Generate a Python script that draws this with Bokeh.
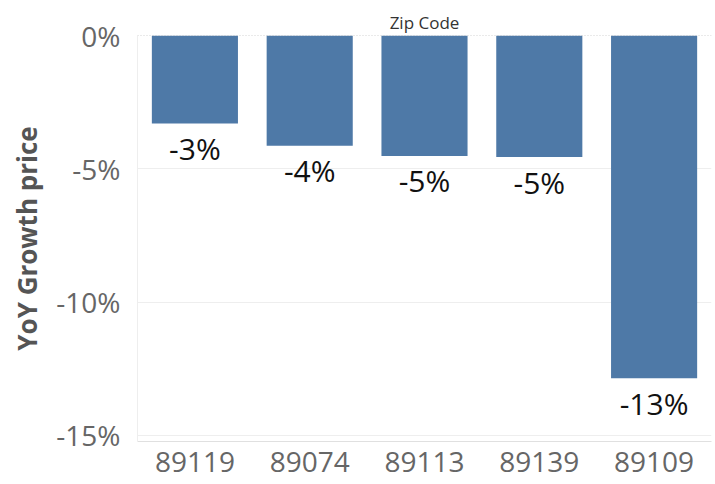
from bokeh.plotting import figure
from bokeh.models import ColumnDataSource, Range1d, FixedTicker, PrintfTickFormatter, Span
from bokeh.core.properties import value
from bokeh.embed import file_html
from bokeh.resources import INLINE

zip_codes = ["89119", "89074", "89113", "89139", "89109"]
yoy_growth = [-3.30, -4.14, -4.52, -4.56, -12.86]
value_labels = ["%d%%" % round(v) for v in yoy_growth]
y_ticks = [0, -5, -10, -15]

FONT = "Open Sans"

source = ColumnDataSource(dict(zip=zip_codes, growth=yoy_growth, label=value_labels))

p = figure(
    x_range=zip_codes,
    y_range=Range1d(-15.23, 0),
    width=715, height=484,
    output_backend="svg", toolbar_location=None,
    min_border_left=137, min_border_right=4,
    min_border_top=35, min_border_bottom=43,
    title="Zip Code",
)
p.title.align = "center"
p.title.text_font = FONT
p.title.text_font_size = "17px"
p.title.text_font_style = "normal"
p.title.text_color = "#333333"
p.title.standoff = 4

p.vbar(x="zip", top=0, bottom="growth", width=0.75, source=source,
       fill_color="#4e79a7", line_color=None)

p.text(x="zip", y="growth", text="label", source=source,
       text_align="center", text_baseline="middle", y_offset=25,
       text_font=value(FONT), text_font_size="30px", text_color="#111111")

zero = Span(location=0, dimension="width", line_color="#aaaaaa",
            line_dash="1 2", line_width=1)
p.add_layout(zero)

p.outline_line_color = None
p.xgrid.grid_line_color = None
p.ygrid.grid_line_color = "#eeeeee"
p.ygrid.ticker = FixedTicker(ticks=[-5, -10, -15])

p.yaxis.ticker = FixedTicker(ticks=y_ticks)
p.yaxis.formatter = PrintfTickFormatter(format="%d%%")
p.yaxis.axis_label = "YoY Growth price"
p.yaxis.axis_label_text_font = FONT
p.yaxis.axis_label_text_font_size = "26px"
p.yaxis.axis_label_text_font_style = "bold"
p.yaxis.axis_label_text_color = "#555555"
p.yaxis.axis_label_standoff = 8
p.yaxis.major_label_text_font = FONT
p.yaxis.major_label_text_font_size = "28px"
p.yaxis.major_label_text_color = "#666666"
p.yaxis.major_label_standoff = 11
p.yaxis.major_tick_line_color = None
p.yaxis.minor_tick_line_color = None
p.yaxis.axis_line_color = "#eeeeee"

p.xaxis.major_label_text_font = FONT
p.xaxis.major_label_text_font_size = "28px"
p.xaxis.major_label_text_color = "#666666"
p.xaxis.major_label_standoff = 4
p.xaxis.major_tick_line_color = None
p.xaxis.minor_tick_line_color = None
p.xaxis.axis_line_color = "#e0e0e0"

open("out.html", "w").write(file_html(p, INLINE))
